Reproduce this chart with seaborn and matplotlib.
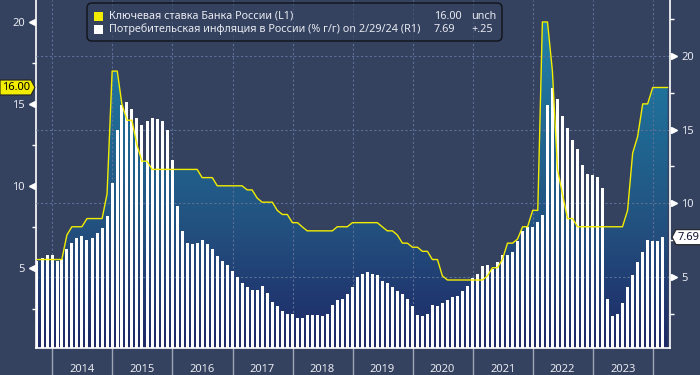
import numpy as np
import pandas as pd
import matplotlib
matplotlib.use("Agg")
import matplotlib.pyplot as plt
import matplotlib.dates as mdates
import seaborn as sns
from matplotlib.colors import LinearSegmentedColormap
from matplotlib.patches import FancyBboxPatch, Rectangle, Polygon
from matplotlib.transforms import blended_transform_factory, ScaledTranslation

# CPI, % y/y, month ends from Sep 2013 to Feb 2024 (right axis)
cpi_start = "2013-09-30"
cpi_values = [
    6.1, 6.3, 6.5, 6.5,
    6.05, 6.2, 6.9, 7.3, 7.6, 7.8, 7.5, 7.6, 8.0, 8.3, 9.1, 11.4,
    15.0, 16.7, 16.9, 16.4, 15.8, 15.3, 15.6, 15.8, 15.7, 15.6, 15.0, 12.9,
    9.8, 8.1, 7.3, 7.2, 7.3, 7.5, 7.2, 6.9, 6.4, 6.1, 5.8, 5.4,
    5.0, 4.6, 4.3, 4.1, 4.1, 4.4, 3.9, 3.3, 3.0, 2.7, 2.5, 2.5,
    2.2, 2.2, 2.4, 2.4, 2.4, 2.3, 2.5, 3.1, 3.4, 3.5, 3.8, 4.3,
    5.0, 5.2, 5.3, 5.2, 5.1, 4.7, 4.6, 4.3, 4.0, 3.8, 3.5, 3.0,
    2.4, 2.3, 2.5, 3.1, 3.0, 3.2, 3.4, 3.6, 3.7, 4.0, 4.4, 4.9,
    5.2, 5.7, 5.8, 5.5, 6.0, 6.5, 6.5, 6.7, 7.4, 8.1, 8.4, 8.4,
    8.7, 9.2, 16.7, 17.8, 17.1, 15.9, 15.1, 14.3, 13.7, 12.6, 12.0, 11.9,
    11.8, 11.0, 3.5, 2.3, 2.5, 3.25, 4.3, 5.15, 6.0, 6.7, 7.5, 7.4,
    7.44, 7.69,
]

# key rate, month ends from Sep 2013 to Mar 2024 (left axis)
rate_start = "2013-09-30"
rate_values = [
    5.5, 5.5, 5.5, 5.5,
    5.5, 5.5, 7.0, 7.5, 7.5, 7.5, 8.0, 8.0, 8.0, 8.0, 9.5, 17.0,
    17.0, 15.0, 14.0, 14.0, 12.5, 11.5, 11.5, 11.0, 11.0, 11.0, 11.0, 11.0,
    11.0, 11.0, 11.0, 11.0, 11.0, 10.5, 10.5, 10.5, 10.0, 10.0, 10.0, 10.0,
    10.0, 10.0, 9.75, 9.75, 9.25, 9.0, 9.0, 9.0, 8.5, 8.25, 8.25, 7.75,
    7.75, 7.5, 7.25, 7.25, 7.25, 7.25, 7.25, 7.25, 7.5, 7.5, 7.5, 7.75,
    7.75, 7.75, 7.75, 7.75, 7.75, 7.5, 7.25, 7.25, 7.0, 6.5, 6.5, 6.25,
    6.25, 6.0, 6.0, 5.5, 5.5, 4.5, 4.25, 4.25, 4.25, 4.25, 4.25, 4.25,
    4.25, 4.25, 4.5, 5.0, 5.0, 5.5, 6.5, 6.5, 6.75, 7.5, 7.5, 8.5,
    8.5, 20.0, 20.0, 17.0, 11.0, 9.5, 8.0, 8.0, 7.5, 7.5, 7.5, 7.5,
    7.5, 7.5, 7.5, 7.5, 7.5, 7.5, 8.5, 12.0, 13.0, 15.0, 15.0, 16.0,
    16.0, 16.0, 16.0,
]

year_labels = [str(y) for y in range(2014, 2024)]
left_ticks = [5, 10, 15, 20]
right_ticks = [5, 10, 15, 20]

legend_names = ["Ключевая ставка Банка России (L1)",
                "Потребительская инфляция в России (% г/г) on 2/29/24 (R1)"]
legend_values = ["16.00", "7.69"]
legend_changes = ["unch", "+.25"]

BG = "#344260"
YEL = "#f2ec00"
GRID = "#5d6f96"
TXT = "#e8eaf0"

sns.set_style("dark")
plt.rcParams["font.family"] = ["Noto Sans", "DejaVu Sans"]

cpi = pd.DataFrame({"date": pd.date_range(cpi_start, periods=len(cpi_values), freq="ME"),
                    "cpi": cpi_values})
cpi["x"] = mdates.date2num(cpi["date"])
rate = pd.DataFrame({"date": pd.date_range(rate_start, periods=len(rate_values), freq="ME"),
                     "rate": rate_values})
rate["x"] = mdates.date2num(rate["date"])

xlim = (mdates.date2num(pd.Timestamp("2013-09-24")), mdates.date2num(pd.Timestamp("2024-04-14")))
ylim_l = (0.1, 21.34)
ylim_r = (0.16, 23.8)

fig = plt.figure(figsize=(7, 3.75), dpi=100, facecolor=BG)
ax = fig.add_axes([36 / 700, 27 / 375, 634 / 700, 348 / 375])
ax.set_facecolor(BG)

# gradient area under the key rate
cmap = LinearSegmentedColormap.from_list(
    "fill", [(0, "#1e2866"), (0.35, "#23517f"), (0.65, "#1f6a95"), (1, "#2287ab")])
grad = np.linspace(0, 1, 256).reshape(-1, 1)
im = ax.imshow(grad, extent=[xlim[0], xlim[1], ylim_l[0], ylim_l[1]], origin="lower",
               aspect="auto", cmap=cmap, zorder=0)
poly = ax.fill_between(rate["x"], rate["rate"], 0, facecolor="none", edgecolor="none")
im.set_clip_path(poly.get_paths()[0], transform=ax.transData)

# inflation bars
ax2 = ax.twinx()
sns.barplot(data=cpi, x="x", y="cpi", native_scale=True, orient="x", color="white",
            saturation=1, width=0.65, errorbar=None, linewidth=0, ax=ax2, zorder=3)

# key rate line on top
ax3 = ax.twinx()
sns.lineplot(data=rate, x="x", y="rate", color=YEL, lw=1.0, ax=ax3)
ax3.set_ylim(ylim_l)
ax3.axis("off")

for a in (ax, ax2, ax3):
    a.set_xlim(xlim)
    a.set_xlabel("")
    a.set_ylabel("")
ax.set_ylim(ylim_l)
ax2.set_ylim(ylim_r)

# x axis: year boundaries + centred year labels
years = mdates.date2num(pd.date_range("2014-01-01", "2024-01-01", freq="YS"))
mids = mdates.date2num(pd.to_datetime([f"{y}-07-01" for y in year_labels]))
ax.set_xticks(years)
ax.set_xticklabels([])
ax.set_xticks(mids, minor=True)
ax.set_xticklabels(year_labels, minor=True)
ax.tick_params(axis="x", which="major", bottom=True, length=20, width=1, color="#9ea4b4")
ax.tick_params(axis="x", which="minor", bottom=True, length=0, pad=11.5, labelsize=8, labelcolor=TXT)

# left axis
ax.set_yticks(left_ticks)
ax.set_yticks([2.5, 7.5, 12.5, 17.5], minor=True)
ax.tick_params(axis="y", which="major", left=True, length=0, pad=8, labelsize=8, labelcolor=TXT)
ax.tick_params(axis="y", which="minor", left=True, length=3, width=1, color="white")

# right axis
ax2.set_yticks(right_ticks)
ax2.set_yticks([2.5, 7.5, 12.5, 17.5, 22.5], minor=True)
ax2.tick_params(axis="y", which="major", right=True, length=0, pad=8, labelsize=8, labelcolor=TXT)
ax2.tick_params(axis="y", which="minor", right=True, length=3, width=1, color="white")

# grids
ax.grid(axis="x", which="major", color=GRID, ls=(0, (2, 2)), lw=0.8)
ax.grid(axis="y", visible=False)
ax2.grid(axis="y", which="major", color=GRID, ls=(0, (2, 2)), lw=0.8)
ax2.set_axisbelow(True)

for a in (ax, ax2):
    for s in a.spines.values():
        s.set_visible(False)
ax.spines["left"].set_visible(True)
ax.spines["left"].set_color("white")
ax.spines["bottom"].set_visible(True)
ax.spines["bottom"].set_color("white")
ax2.spines["right"].set_visible(True)
ax2.spines["right"].set_color("white")
for s in (ax.spines["left"], ax.spines["bottom"], ax2.spines["right"]):
    s.set_linewidth(1.2)

# triangle tick marks
bl = blended_transform_factory(ax.transAxes, ax.transData)
ax.plot([-0.0063] * len(left_ticks), left_ticks, transform=bl, ls="none", marker="<",
        ms=5, color="white", clip_on=False)
br = blended_transform_factory(ax2.transAxes, ax2.transData)
ax2.plot([1.0063] * len(right_ticks), right_ticks, transform=br, ls="none", marker=">",
         ms=5, color="white", clip_on=False)

# last value tags
tr_l = fig.dpi_scale_trans + ScaledTranslation(0, rate_values[-1], bl)
fig.add_artist(Polygon([(-0.36, -0.075), (-0.05, -0.075), (-0.01, 0), (-0.05, 0.075), (-0.36, 0.075)],
                       closed=True, transform=tr_l, facecolor=YEL, edgecolor="#222", lw=0.8))
fig.text(-0.195, 0, legend_values[0], transform=tr_l, ha="center", va="center",
         fontsize=8, color="black")
tr_r = fig.dpi_scale_trans + ScaledTranslation(1, cpi_values[-1], br)
fig.add_artist(Polygon([(0.02, 0), (0.06, 0.075), (0.33, 0.075), (0.33, -0.075), (0.06, -0.075)],
                       closed=True, transform=tr_r, facecolor="white", edgecolor="#222", lw=0.8))
fig.text(0.185, 0, legend_values[1], transform=tr_r, ha="center", va="center",
         fontsize=8, color="#101030")

# legend box
inch = fig.dpi_scale_trans
fig.add_artist(FancyBboxPatch((0.87, 3.34), 4.15, 0.38, boxstyle="round,pad=0,rounding_size=0.05",
                              transform=inch, facecolor=BG, alpha=0.6, edgecolor="none"))
fig.add_artist(FancyBboxPatch((0.87, 3.34), 4.15, 0.38, boxstyle="round,pad=0,rounding_size=0.05",
                              transform=inch, facecolor="none", edgecolor="#111318", lw=1.0))
for i, (col, yy) in enumerate([(YEL, 3.585), ("white", 3.455)]):
    fig.add_artist(Rectangle((0.94, yy - 0.042), 0.085, 0.085, transform=inch, facecolor=col, edgecolor="none"))
    fig.text(1.09, yy, legend_names[i], transform=inch, va="center", ha="left", fontsize=7.8, color=TXT)
    fig.text(4.34, yy, legend_values[i], transform=inch, va="center", ha="left", fontsize=7.8, color=TXT)
    fig.text(4.71, yy, legend_changes[i], transform=inch, va="center", ha="left", fontsize=7.8, color=TXT)

fig.savefig("out.png", dpi=100, facecolor=BG)
